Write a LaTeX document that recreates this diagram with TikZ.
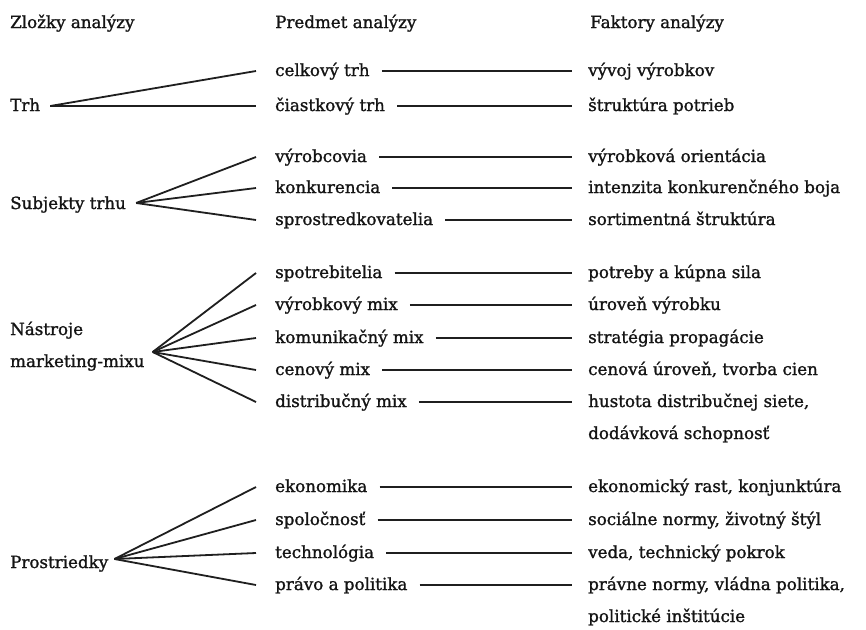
\documentclass[tikz,border=0pt]{standalone}
\usepackage{fontspec}
\setmainfont{DejaVu Serif}[BoldFont=DejaVu Serif,BoldFeatures={FakeBold=1.3}]
\usepackage{tikz}

\begin{document}
\begin{tikzpicture}[x=1pt,y=-1pt,
    lbl/.style={anchor=base west,inner sep=0pt,text height=10pt,text depth=0pt,
      font=\fontsize{16.7}{20}\selectfont\bfseries,text=black!92},
    ln/.style={line width=1.8pt,black!88}]
    \fill[white] (0,0) rectangle (866,629);
    \useasboundingbox (0,0) rectangle (866,629);
    % column heads
    \node[lbl] (hZloz) at (10,28) {Zložky analýzy};
    \node[lbl] (hPred) at (275,28) {Predmet analýzy};
    \node[lbl] (hFakt) at (590,28) {Faktory analýzy};
    % components
    \node[lbl] (trh) at (10,111) {Trh};
    \node[lbl] (subj) at (10,209) {Subjekty trhu};
    \node[lbl] (nastr) at (10,335) {Nástroje};
    \node[lbl] (mmix) at (10,367) {marketing-mixu};
    \node[lbl] (prostr) at (10,568) {Prostriedky};
    % subjects of analysis
    \node[lbl] (celk) at (275,76) {celkový trh};
    \node[lbl] (ciast) at (275,111) {čiastkový trh};
    \node[lbl] (vyrob) at (275,162) {výrobcovia};
    \node[lbl] (konk) at (275,193) {konkurencia};
    \node[lbl] (sprost) at (275,225) {sprostredkovatelia};
    \node[lbl] (spotr) at (275,278) {spotrebitelia};
    \node[lbl] (vmix) at (275,310) {výrobkový mix};
    \node[lbl] (kmix) at (275,343) {komunikačný mix};
    \node[lbl] (cmix) at (275,375) {cenový mix};
    \node[lbl] (dmix) at (275,407) {distribučný mix};
    \node[lbl] (ekon) at (275,492) {ekonomika};
    \node[lbl] (spol) at (275,525) {spoločnosť};
    \node[lbl] (tech) at (275,558) {technológia};
    \node[lbl] (pravo) at (275,590) {právo a politika};
    % factors
    \node[lbl] (vyvoj) at (588,76) {vývoj výrobkov};
    \node[lbl] (strpot) at (588,111) {štruktúra potrieb};
    \node[lbl] (orient) at (588,162) {výrobková orientácia};
    \node[lbl] (boj) at (588,193) {intenzita konkurenčného boja};
    \node[lbl] (sort) at (588,225) {sortimentná štruktúra};
    \node[lbl] (kupna) at (588,278) {potreby a kúpna sila};
    \node[lbl] (uroven) at (588,310) {úroveň výrobku};
    \node[lbl] (propag) at (588,343) {stratégia propagácie};
    \node[lbl] (cena) at (588,375) {cenová úroveň, tvorba cien};
    \node[lbl] (siet) at (588,407) {hustota distribučnej siete,};
    \node[lbl] (dodav) at (588,439) {dodávková schopnosť};
    \node[lbl] (rast) at (588,492) {ekonomický rast, konjunktúra};
    \node[lbl] (normy) at (588,525) {sociálne normy, životný štýl};
    \node[lbl] (veda) at (588,558) {veda, technický pokrok};
    \node[lbl] (pnorm) at (588,590) {právne normy, vládna politika,};
    \node[lbl] (inst) at (588,622) {politické inštitúcie};
    % fan apexes
    \coordinate (trhA) at ([xshift=10pt]trh.east);
    \coordinate (subjA) at ([xshift=10pt,yshift=1pt]subj.east);
    \coordinate (mmixA) at ([xshift=8pt,yshift=10pt]mmix.east);
    \coordinate (prostrA) at ([xshift=6pt,yshift=4pt]prostr.east);
    \foreach \a/\m in {trhA/celk,trhA/ciast,
        subjA/vyrob,subjA/konk,subjA/sprost,
        mmixA/spotr,mmixA/vmix,mmixA/kmix,mmixA/cmix,mmixA/dmix,
        prostrA/ekon,prostrA/spol,prostrA/tech,prostrA/pravo}
      \draw[ln] (\a) -- ([xshift=-19pt]\m.west);
    \foreach \m/\f in {celk/vyvoj,ciast/strpot,vyrob/orient,konk/boj,sprost/sort,
        spotr/kupna,vmix/uroven,kmix/propag,cmix/cena,dmix/siet,
        ekon/rast,spol/normy,tech/veda,pravo/pnorm}
      \draw[ln] ([xshift=12pt]\m.east) -- ([xshift=-16pt]\f.west);
\end{tikzpicture}
\end{document}
